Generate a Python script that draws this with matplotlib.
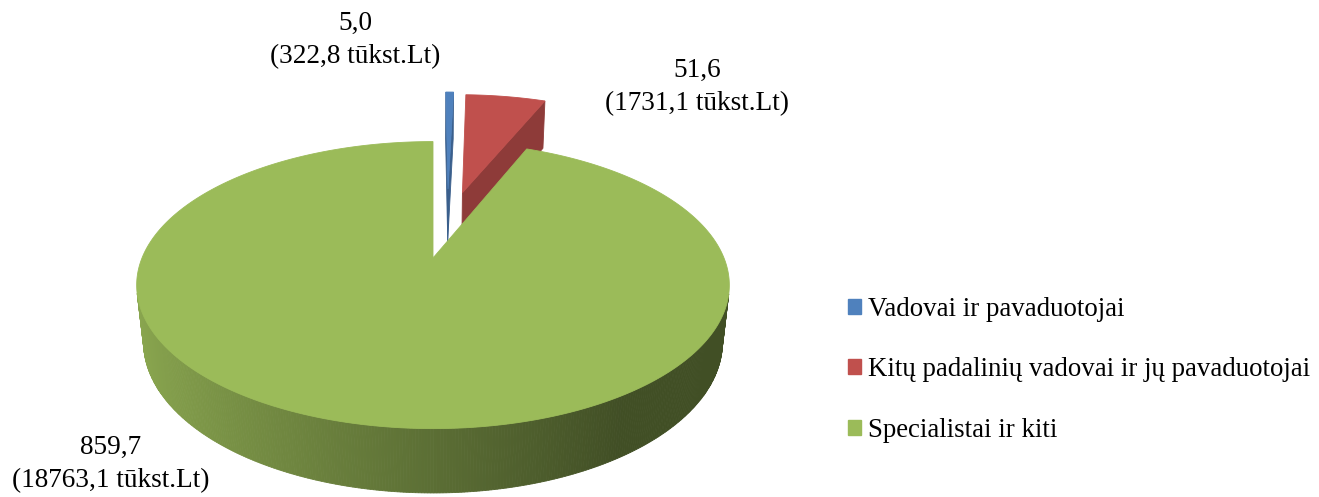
import numpy as np
import matplotlib
matplotlib.use("Agg")
import matplotlib.pyplot as plt
from matplotlib.patches import Polygon, Patch
from matplotlib.colors import to_rgb

# ---- data ----
categories = ["Vadovai ir pavaduotojai",
              "Kitų padalinių vadovai ir jų pavaduotojai",
              "Specialistai ir kiti"]
values = [5.0, 51.6, 859.7]
amounts = [322.8, 1731.1, 18763.1]
unit = "tūkst.Lt"

# ---- style ----
colors = ["#4F81BD", "#C0504D", "#9BBB59"]
explode_offsets = [(0.057, 0.55), (0.111, 0.518), (0.0, 0.0)]
label_pos = [(355, 40), (697, 87), (111, 464)]
FONT = "Liberation Serif"
FS = 19.6
LFS = 19.4

W, HP = 1319, 497
fig = plt.figure(figsize=(W / 100, HP / 100), dpi=100)
ax = fig.add_axes([0, 0, 1, 1])
ax.set_xlim(0, W)
ax.set_ylim(HP, 0)
ax.axis("off")

# projection parameters (screen placement of the 3D pie)
cx, cy, S = 433.0, 258.0, 291.0
phi = np.radians(28.4)
Dcam = 4.66
depth = 0.225
cam = np.array([0.0, -Dcam * np.cos(phi), Dcam * np.sin(phi)])


def proj(x, y, z):
    x = np.asarray(x, float)
    y = np.asarray(y, float)
    z = np.asarray(z, float) * np.ones_like(x)
    v = y * np.sin(phi) + z * np.cos(phi)
    w = y * np.cos(phi) - z * np.sin(phi)
    s = Dcam / (Dcam + w)
    return np.column_stack([cx + S * x * s, cy - S * v * s])


def shade(rgb, f):
    return tuple(np.clip(np.array(rgb) * f, 0, 1))


def visible(p, n):
    return np.dot(cam - p, n) > 0


vals = np.array(values)
frac = vals / vals.sum()
starts = np.concatenate([[0], np.cumsum(frac)[:-1]]) * 360.0
ends = np.cumsum(frac) * 360.0

order = [0, 1, 2]
for i in order:
    a0, a1 = np.radians(starts[i]), np.radians(ends[i])
    ox, oy = explode_offsets[i]
    base = to_rgb(colors[i])
    n = max(int(np.degrees(a1 - a0) / 0.5), 2)
    ang = np.linspace(a0, a1, n + 1)
    rx = ox + np.sin(ang)
    ry = oy + np.cos(ang)

    faces = []
    # cut faces
    for a, nrm in ((a0, np.array([-np.cos(a0), np.sin(a0), 0.0])),
                   (a1, np.array([np.cos(a1), -np.sin(a1), 0.0]))):
        p = np.array([ox + 0.5 * np.sin(a), oy + 0.5 * np.cos(a), -depth / 2])
        if visible(p, nrm):
            pts = np.vstack([proj([ox, ox + np.sin(a)], [oy, oy + np.cos(a)], 0),
                             proj([ox + np.sin(a), ox], [oy + np.cos(a), oy], -depth)])
            wdepth = (oy + 0.5 * np.cos(a)) * np.cos(phi)
            faces.append((wdepth, pts, shade(base, 0.74)))
    # outer wall
    for k in range(n):
        am = 0.5 * (ang[k] + ang[k + 1])
        nrm = np.array([np.sin(am), np.cos(am), 0.0])
        p = np.array([ox + np.sin(am), oy + np.cos(am), -depth / 2])
        if not visible(p, nrm):
            continue
        top = proj(rx[k:k + 2], ry[k:k + 2], 0)
        bot = proj(rx[k:k + 2][::-1], ry[k:k + 2][::-1], -depth)
        pts = np.vstack([top, bot])
        xw = np.sin(am)
        f = np.interp(xw, [-1.0, 0.55, 1.0], [0.9, 0.42, 0.42])
        faces.append((p[1] * np.cos(phi), pts, shade(base, f)))
    faces.sort(key=lambda t: -t[0])
    for _, pts, col in faces:
        ax.add_patch(Polygon(pts, closed=True, facecolor=col, edgecolor=col,
                             linewidth=0.6, antialiased=True))
    # top face
    toppts = np.vstack([proj([ox], [oy], 0), proj(rx, ry, 0)])
    ax.add_patch(Polygon(toppts, closed=True, facecolor=base, edgecolor=base,
                         linewidth=0.6))


def fmt(v):
    return f"{v:.1f}".replace(".", ",")


for i in range(len(values)):
    x, y = label_pos[i]
    ax.text(x, y, f"{fmt(values[i])}\n({fmt(amounts[i])} {unit})",
            ha="center", va="center", multialignment="center",
            fontsize=FS, family=FONT, color="black", linespacing=1.45)

handles = [Patch(facecolor=c, edgecolor=c) for c in colors]
ax.legend(handles, categories, loc="center left",
          bbox_to_anchor=(848 / W, 1 - 370 / HP), frameon=False,
          prop={"family": FONT, "size": LFS}, handlelength=0.48,
          handleheight=0.48, handletextpad=0.26, labelspacing=1.32,
          borderaxespad=0, borderpad=0)

fig.savefig("out.png", dpi=100)
